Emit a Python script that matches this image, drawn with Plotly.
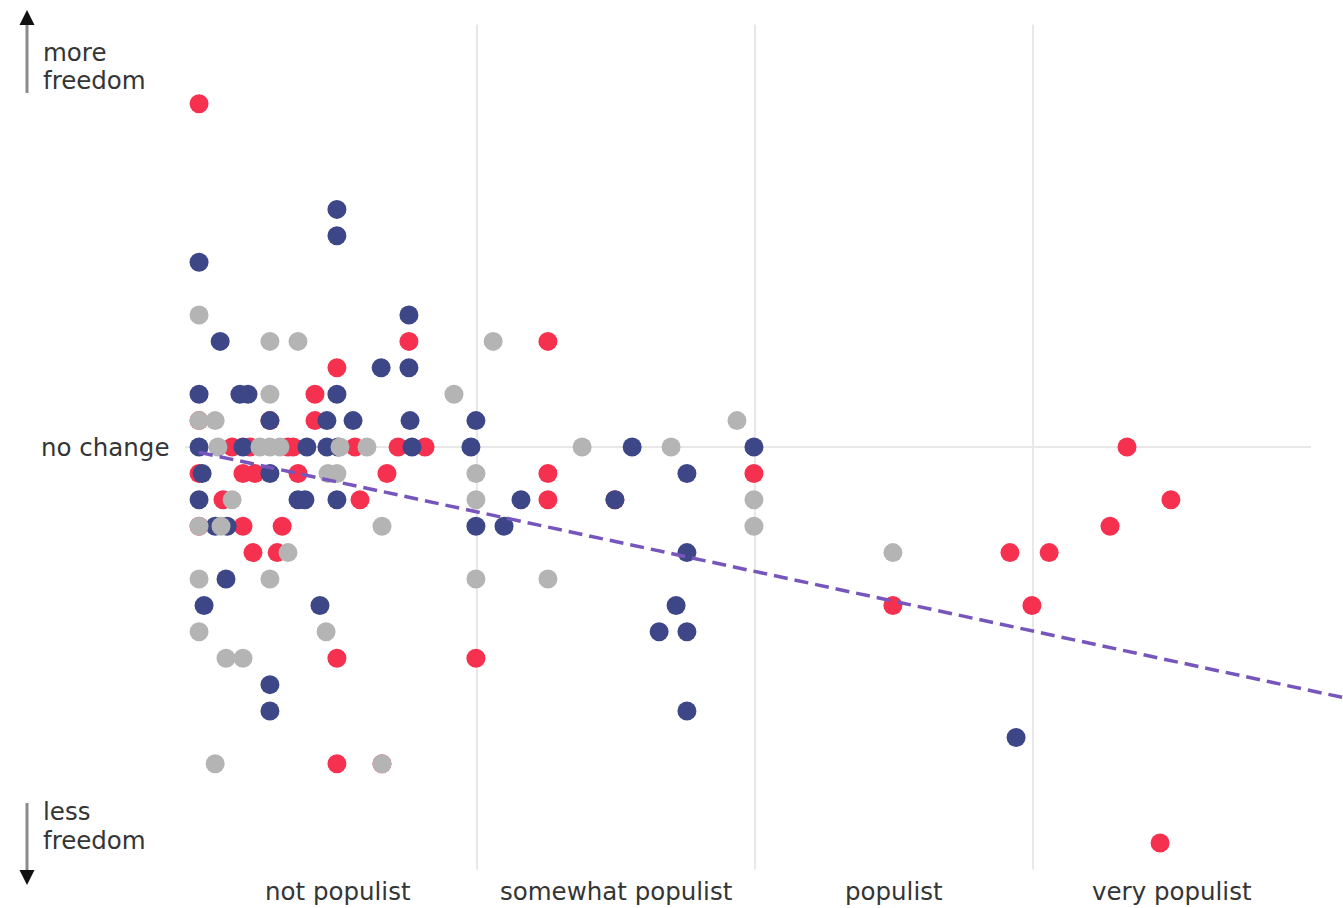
import plotly.graph_objects as go

# populism score (x) and change in freedom (y), by group
navy_x = [0.496, 0.496, 0.0, 0.755, 0.076, 0.655, 0.755,
          0.0, 0.147, 0.176, 0.496,
          0.255, 0.460, 0.554, 0.759, 0.996,
          0.0, 0.158, 0.388, 0.460, 0.500, 0.766, 0.978, 1.558, 1.996,
          0.011, 0.255, 1.755,
          0.0, 0.356, 0.381, 0.496, 1.158, 1.496,
          0.058, 0.101, 0.996, 1.097,
          1.755,
          0.097,
          0.018, 0.435, 1.716,
          1.655, 1.755,
          0.255,
          0.255, 1.755,
          2.939]
navy_y = [9, 8, 7, 5, 4, 3, 3,
          2, 2, 2, 2,
          1, 1, 1, 1, 1,
          0, 0, 0, 0, 0, 0, 0, 0, 0,
          -1, -1, -1,
          -2, -2, -2, -2, -2, -2,
          -3, -3, -3, -3,
          -4,
          -5,
          -6, -6, -6,
          -7, -7,
          -9,
          -10, -10,
          -11]

red_x = [0.0, 0.755, 1.255, 0.496, 0.417,
         0.0, 0.255, 0.417,
         0.119, 0.183, 0.320, 0.338, 0.561, 0.716, 0.813, 3.338,
         0.0, 0.158, 0.201, 0.356, 0.676, 1.255, 1.996,
         0.086, 0.579, 1.255, 1.496, 3.496,
         0.0, 0.158, 0.299, 3.277,
         0.194, 0.281, 2.917, 3.058,
         2.496, 2.996,
         0.496, 0.996,
         0.496, 0.658,
         3.457]
red_y = [13, 4, 4, 3, 2,
         1, 1, 1,
         0, 0, 0, 0, 0, 0, 0, 0,
         -1, -1, -1, -1, -1, -1, -1,
         -2, -2, -2, -2, -2,
         -3, -3, -3, -3,
         -4, -4, -4, -4,
         -6, -6,
         -8, -8,
         -12, -12,
         -15]

gray_x = [0.0, 0.255, 0.356, 1.058,
          0.255, 0.917,
          0.0, 0.058, 1.935,
          0.068, 0.219, 0.255, 0.291, 0.507, 0.604, 1.378, 1.698,
          0.464, 0.496, 0.996,
          0.119, 0.996, 1.996,
          0.0, 0.079, 0.658, 1.996,
          0.320, 2.496,
          0.0, 0.255, 0.996, 1.255,
          0.0, 0.457,
          0.097, 0.158,
          0.058, 0.658]
gray_y = [5, 4, 4, 4,
          2, 2,
          1, 1, 1,
          0, 0, 0, 0, 0, 0, 0, 0,
          -1, -1, -1,
          -2, -2, -2,
          -3, -3, -3, -3,
          -4, -4,
          -5, -5, -5, -5,
          -7, -7,
          -8, -8,
          -12, -12]

# fitted trend (dashed)
trend_x = [0.0, 4.12]
trend_y = [-0.2, -9.5]

category_labels = ["not populist", "somewhat populist", "populist", "very populist"]
category_pos = [0.5, 1.5, 2.5, 3.5]
grid_x = [1, 2, 3]

NAVY = "#3d4787"
RED = "#f6304f"
GRAY = "#b4b4b4"
TREND = "#7656bd"
TEXT = "#353535"
FONT = "DejaVu Sans"
FS = 24.5

W, H = 1343, 908
X_RANGE = [-0.716, 4.115]
Y_RANGE = [-17.46, 16.93]

fig = go.Figure()

for xs, ys, c in [(red_x, red_y, RED), (navy_x, navy_y, NAVY), (gray_x, gray_y, GRAY)]:
    fig.add_trace(go.Scatter(
        x=xs, y=ys, mode="markers",
        marker=dict(size=19, color=c, line=dict(width=0)),
        showlegend=False, hoverinfo="x+y"))

fig.add_trace(go.Scatter(
    x=trend_x, y=trend_y, mode="lines",
    line=dict(color=TREND, width=3.5, dash="14px,7px"),
    showlegend=False, hoverinfo="skip"))


def px(xp):
    return xp / W


def py(yp):
    return 1 - yp / H


shapes = []
for gx in grid_x:
    shapes.append(dict(type="line", xref="x", yref="y", x0=gx, x1=gx, y0=-16, y1=16,
                       line=dict(color="#e8e8e8", width=2), layer="below"))
shapes.append(dict(type="line", xref="x", yref="y", x0=-0.05, x1=4.0, y0=0, y1=0,
                   line=dict(color="#e8e8e8", width=2), layer="below"))
# vertical arrow shafts
shapes.append(dict(type="line", xref="paper", yref="paper", x0=px(27), x1=px(27),
                   y0=py(22), y1=py(93), line=dict(color="#8a8a8a", width=3)))
shapes.append(dict(type="line", xref="paper", yref="paper", x0=px(27), x1=px(27),
                   y0=py(803), y1=py(873), line=dict(color="#8a8a8a", width=3)))

annotations = []
for lab, pos in zip(category_labels, category_pos):
    annotations.append(dict(x=pos, y=py(891), xref="x", yref="paper", text=lab,
                            showarrow=False, xanchor="center", yanchor="middle",
                            font=dict(family=FONT, size=FS, color=TEXT)))
annotations.append(dict(x=px(171), y=0, xref="paper", yref="y", text="no change",
                        showarrow=False, xanchor="right", yanchor="middle",
                        font=dict(family=FONT, size=FS, color=TEXT)))
for txt, yp in [("more", 52), ("freedom", 81), ("less", 811), ("freedom", 840)]:
    annotations.append(dict(x=px(41), y=py(yp), xref="paper", yref="paper",
                            text=txt, showarrow=False, align="left",
                            xanchor="left", yanchor="middle",
                            font=dict(family=FONT, size=FS, color=TEXT)))
# arrowheads
annotations.append(dict(x=px(27), y=py(10), xref="paper", yref="paper", text="",
                        showarrow=True, ax=0, ay=16, axref="pixel", ayref="pixel",
                        arrowhead=2, arrowsize=1.2, arrowwidth=2.5, arrowcolor="#111"))
annotations.append(dict(x=px(27), y=py(885), xref="paper", yref="paper", text="",
                        showarrow=True, ax=0, ay=-16, axref="pixel", ayref="pixel",
                        arrowhead=2, arrowsize=1.2, arrowwidth=2.5, arrowcolor="#111"))

fig.update_layout(
    width=W, height=H, autosize=False,
    margin=dict(l=0, r=0, t=0, b=0),
    paper_bgcolor="white", plot_bgcolor="white",
    xaxis=dict(range=X_RANGE, visible=False, fixedrange=True),
    yaxis=dict(range=Y_RANGE, visible=False, fixedrange=True),
    shapes=shapes, annotations=annotations,
    font=dict(family=FONT, color=TEXT),
)

fig.write_html("out.html", config={"displayModeBar": False},
               post_script="document.body.style.margin='0';document.body.style.overflow='hidden';")
